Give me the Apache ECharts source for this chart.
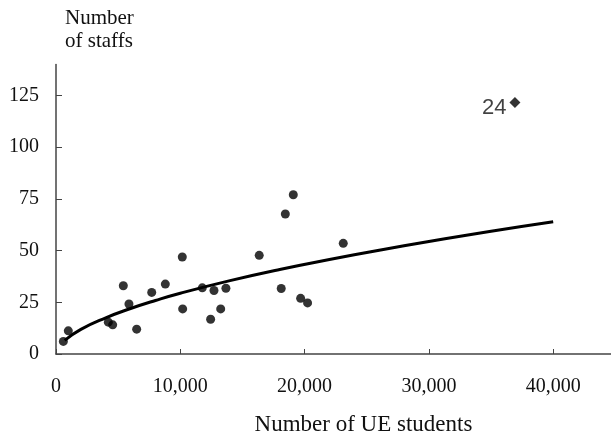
<!DOCTYPE html>
<html>
<head>
<meta charset="utf-8">
<script src="https://cdn.jsdelivr.net/npm/echarts@6/dist/echarts.min.js"></script>
<style>
html,body{margin:0;padding:0;background:#fff;}
#chart{width:611px;height:441px;}
</style>
</head>
<body>
<div id="chart"></div>
<script>
// Universities: number of UE students vs number of staffs
var students = [590, 990, 4210, 4560, 5415, 5870, 6490, 7700, 8795, 10160, 10190, 11770, 12440, 12710, 13250, 13670, 16350, 18120, 18450, 19090, 19680, 20240, 23110];
var staffs   = [6.1, 11.2, 15.4, 14.1, 33.0, 24.2, 12.0, 29.8, 33.8, 46.9, 21.8, 32.0, 16.8, 30.7, 21.8, 31.8, 47.7, 31.7, 67.7, 77.0, 26.9, 24.7, 53.5];

// Outlier, labelled "24"
var outlierLabel = '24';
var outlierStudents = 36920;
var outlierStaffs = 121.6;

// Trend curve
var curveStudents = [700, 2000, 4000, 6000, 8000, 10000, 14000, 18000, 22000, 26000, 30000, 35000, 40000];
var curveStaffs   = [6.6, 11.9, 17.5, 22.0, 25.9, 29.4, 35.5, 40.9, 45.7, 50.2, 54.4, 59.4, 64.0];

var xTicks = [0, 10000, 20000, 30000, 40000];
var yTicks = [0, 25, 50, 75, 100, 125];

var xName = 'Number of UE students';
var yName = 'Number\nof staffs';

var scatterData = students.map(function (s, i) { return [s, staffs[i]]; });
var curveData = curveStudents.map(function (s, i) { return [s, curveStaffs[i]]; });

var chart = echarts.init(document.getElementById('chart'), null, {renderer: 'canvas'});
var serif = '"Liberation Serif", "Times New Roman", serif';
chart.setOption({
  animation: false,
  backgroundColor: '#ffffff',
  grid: {left: 56, right: 0, top: 64.5, bottom: 85, containLabel: false},
  xAxis: {
    type: 'value',
    min: 0,
    max: 44650,
    name: xName,
    nameLocation: 'middle',
    nameGap: 59,
    nameTextStyle: {fontFamily: serif, fontSize: 23, color: '#111', padding: [0, 0, 0, 60]},
    axisLine: {show: true, lineStyle: {color: '#444', width: 1.5}},
    axisTick: {show: true, inside: true, length: 5, customValues: xTicks, lineStyle: {color: '#444', width: 1}},
    axisLabel: {
      customValues: xTicks, margin: 23, fontFamily: serif, fontSize: 20, color: '#111',
      formatter: function (v) { return v === 0 ? '0' : v.toLocaleString('en-US'); }
    },
    splitLine: {show: false}
  },
  yAxis: {
    type: 'value',
    min: 0,
    max: 140,
    name: yName,
    nameLocation: 'end',
    nameGap: 12,
    nameTextStyle: {fontFamily: serif, fontSize: 21, lineHeight: 23, color: '#111', align: 'left', verticalAlign: 'bottom', padding: [0, 0, 0, 9]},
    axisLine: {show: true, lineStyle: {color: '#444', width: 1.5}},
    axisTick: {show: true, inside: true, length: 6, customValues: yTicks, lineStyle: {color: '#444', width: 1}},
    axisLabel: {customValues: yTicks, margin: 17, fontFamily: serif, fontSize: 20, color: '#111'},
    splitLine: {show: false}
  },
  series: [
    {
      type: 'line',
      data: curveData,
      smooth: true,
      showSymbol: false,
      lineStyle: {color: '#000', width: 3},
      z: 2
    },
    {
      type: 'scatter',
      data: scatterData,
      symbol: 'circle',
      symbolSize: 9,
      itemStyle: {color: '#000'},
      z: 3
    },
    {
      type: 'scatter',
      data: [{value: [outlierStudents, outlierStaffs], name: outlierLabel}],
      symbol: 'diamond',
      symbolSize: 11,
      itemStyle: {color: '#000'},
      label: {
        show: true,
        position: 'left',
        distance: 3,
        offset: [0, 5],
        formatter: '{b}',
        fontFamily: '"Liberation Sans", Arial, sans-serif',
        fontSize: 22,
        color: '#111'
      },
      z: 3
    }
  ]
});
</script>
</body>
</html>
